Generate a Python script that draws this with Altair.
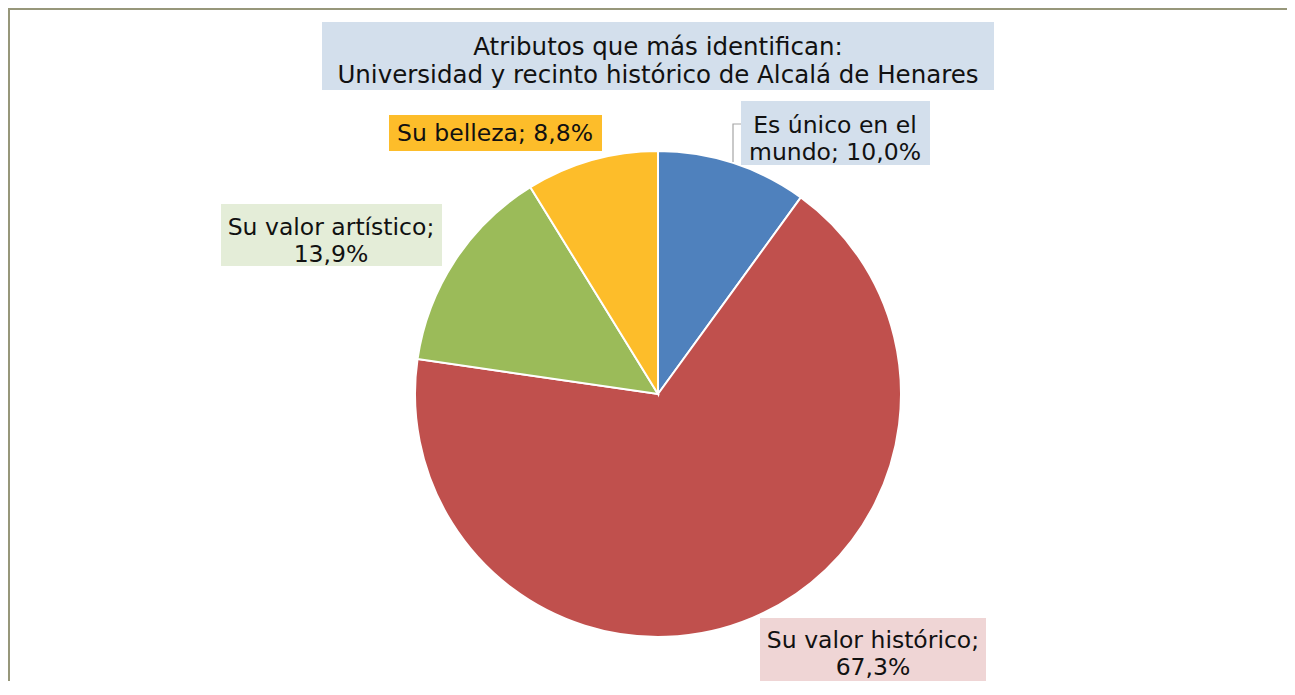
import altair as alt
import pandas as pd

# ---- data ----
categories = ["Es único en el mundo", "Su valor histórico", "Su valor artístico", "Su belleza"]
values = [10.0, 67.3, 13.9, 8.8]
label_lines = [
    ["Es único en el", "mundo; 10,0%"],
    ["Su valor histórico;", "67,3%"],
    ["Su valor artístico;", "13,9%"],
    ["Su belleza; 8,8%"],
]
title_lines = ["Atributos que más identifican:",
               "Universidad y recinto histórico de Alcalá de Henares"]

# ---- style / layout ----
slice_colors = ["#4F81BD", "#C0504D", "#9BBB59", "#FDBD2A"]
label_bg = ["#D3DFEC", "#EFD5D5", "#E4EDD8", "#FDBD2A"]
title_bg = "#D3DFEC"
W, H = 1279, 673
CX, CY, R = 650, 386, 243
FONT = "DejaVu Sans"
# boxes: (x0, x1, y0, y1, text center x, first line y, line step, font size)
label_layout = [
    (733, 922, 93, 157, 827, 118, 27, 23.5),
    (752, 978, 610, 673, 865, 633, 27, 23.5),
    (213, 434, 196, 258, 323, 220, 27, 23.5),
    (381, 594, 107, 143, 487, 126, 0, 23.5),
]
title_layout = (314, 986, 14, 82, 650, 40, 28, 24.5)
leader_pts = [(733, 116), (725, 116), (725, 154)]

xs = alt.Scale(domain=[0, W], range=[0, W], nice=False, zero=False)
ys = alt.Scale(domain=[0, H], range=[0, H], nice=False, zero=False)

# ---- pie ----
pie_df = pd.DataFrame({"cat": categories, "val": values, "idx": list(range(len(values)))})
pie = alt.Chart(pie_df).mark_arc(radius=R, stroke="white", strokeWidth=2).encode(
    theta=alt.Theta("val:Q", stack=True),
    order=alt.Order("idx:Q"),
    color=alt.Color("cat:N", scale=alt.Scale(domain=categories, range=slice_colors), legend=None),
    x=alt.value(CX),
    y=alt.value(CY),
)

# ---- boxes and texts ----
box_rows, text_rows = [], []
all_layout = [title_layout] + label_layout
all_lines = [title_lines] + label_lines
all_bg = [title_bg] + label_bg
for i, (lay, lines, bg) in enumerate(zip(all_layout, all_lines, all_bg)):
    x0, x1, y0, y1, tx, ty, step, fs = lay
    box_rows.append({"id": str(i), "x0": x0, "x1": x1, "y0": y0, "y1": y1, "bg": bg})
    for j, ln in enumerate(lines):
        text_rows.append({"t": ln, "x": tx, "y": ty + j * step, "fs": fs})

box_df = pd.DataFrame(box_rows)
boxes = alt.Chart(box_df).mark_rect().encode(
    x=alt.X("x0:Q", scale=xs, axis=None),
    x2="x1:Q",
    y=alt.Y("y0:Q", scale=ys, axis=None),
    y2="y1:Q",
    color=alt.Color("bg:N", scale=None, legend=None),
)

text_df = pd.DataFrame(text_rows)
texts = alt.Chart(text_df).mark_text(font=FONT, baseline="middle",
                                     align="center", color="#111111").encode(
    x=alt.X("x:Q", scale=xs, axis=None),
    y=alt.Y("y:Q", scale=ys, axis=None),
    text="t:N",
    size=alt.Size("fs:Q", scale=None, legend=None),
)

lead_df = pd.DataFrame({"x": [p[0] for p in leader_pts], "y": [p[1] for p in leader_pts],
                        "o": list(range(len(leader_pts)))})
leader = alt.Chart(lead_df).mark_line(color="#A6A6A6", strokeWidth=1.2).encode(
    x=alt.X("x:Q", scale=xs, axis=None),
    y=alt.Y("y:Q", scale=ys, axis=None),
    order="o:Q",
)

border_df = pd.DataFrame({"x": [1, 1, W + 20], "y": [H + 20, 1, 1], "o": [0, 1, 2]})
border = alt.Chart(border_df).mark_line(color="#97977A", strokeWidth=2).encode(
    x=alt.X("x:Q", scale=xs, axis=None),
    y=alt.Y("y:Q", scale=ys, axis=None),
    order="o:Q",
)

chart = alt.layer(border, pie, boxes, leader, texts).properties(
    width=W, height=H, padding=0, autosize=alt.AutoSizeParams(type="none"),
    background="white",
).configure_view(stroke=None)

chart.save("out.html", embed_options={"renderer": "svg", "actions": False})
